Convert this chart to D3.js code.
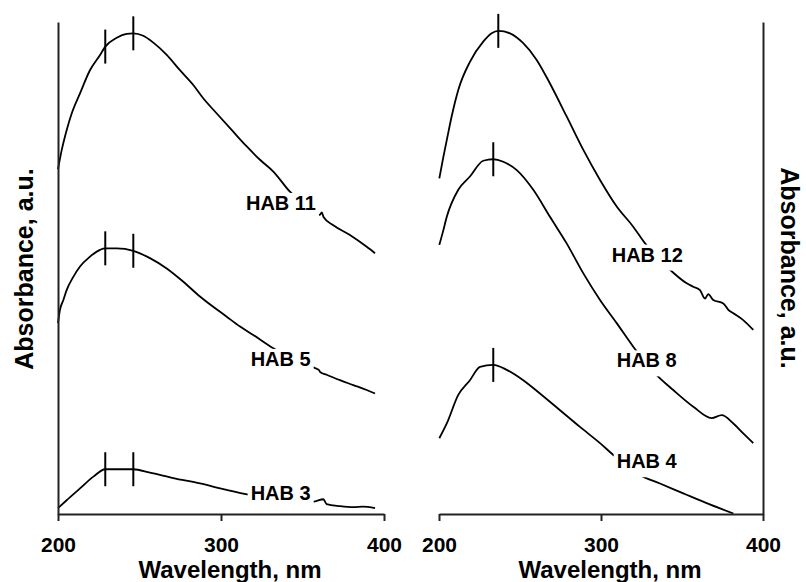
<!DOCTYPE html>
<html>
<head>
<meta charset="utf-8">
<script src="https://cdn.jsdelivr.net/npm/d3@7"></script>
<style>
  body { margin: 0; background: #fff; }
  text { font-family: "Liberation Sans", Arial, sans-serif; font-weight: bold; fill: #000; }
</style>
</head>
<body>
<div id="chart"></div>
<script>
// spectra, [wavelength nm, absorbance a.u. (offset)]
const hab11 = [[200,0.701],[202.3,0.740],[205.3,0.780],[208.4,0.814],[213.5,0.855],[219.6,0.902],[225.8,0.933],[229,0.950],[236,0.968],[242.1,0.976],[246.2,0.977],[252.3,0.972],[258.5,0.958],[266.7,0.933],[274.8,0.902],[283,0.872],[289.1,0.845],[297.4,0.814],[307.5,0.777],[315.8,0.747],[323.9,0.720],[332.1,0.696],[342.3,0.655],[360.7,0.608],[361.8,0.613],[363,0.603],[368.9,0.587],[379.1,0.567],[389.4,0.543],[394.5,0.530]];
const hab5 = [[200,0.388],[201.2,0.415],[203.3,0.435],[205.3,0.455],[209.4,0.482],[213.5,0.503],[219.6,0.523],[225.8,0.537],[229,0.540],[236,0.540],[246.2,0.535],[256.4,0.520],[266.7,0.499],[276.9,0.472],[287.1,0.442],[303.5,0.401],[311.7,0.381],[319.8,0.364],[332.1,0.337],[356.6,0.298],[360,0.293],[361,0.288],[364.8,0.283],[373,0.272],[381.2,0.262],[389.4,0.252],[394.5,0.245]];
const hab3 = [[200,0.012],[205.3,0.028],[213.5,0.052],[221.7,0.076],[229,0.091],[246.2,0.091],[256.4,0.084],[270.7,0.073],[287.1,0.062],[303.5,0.049],[317.8,0.039],[356.6,0.025],[362.8,0.030],[364.8,0.020],[373,0.016],[381.2,0.014],[387,0.015],[394.5,0.012]];
const hab12 = [[200.2,0.682],[202.7,0.726],[204.8,0.760],[207.8,0.808],[211.9,0.862],[219.1,0.919],[227.3,0.960],[232.5,0.977],[236.6,0.982],[243.8,0.977],[252,0.957],[260.3,0.923],[268.5,0.875],[278.8,0.808],[289.1,0.740],[299.4,0.679],[309.7,0.625],[319.9,0.584],[327.2,0.550],[340.5,0.503],[352.9,0.469],[357,0.462],[361.1,0.455],[364.2,0.438],[366.2,0.447],[369.3,0.435],[375.5,0.428],[378.6,0.415],[381.7,0.408],[387.8,0.394],[394,0.374]];
const hab8 = [[200.2,0.547],[202.7,0.577],[204.8,0.604],[211.9,0.659],[219.1,0.686],[227.3,0.718],[233.5,0.721],[239.7,0.716],[248,0.699],[258.2,0.659],[268.5,0.604],[278.8,0.550],[289.1,0.489],[299.4,0.435],[309.7,0.388],[319.9,0.340],[333.3,0.286],[344.6,0.252],[357,0.218],[368.3,0.195],[374.5,0.201],[381.7,0.184],[387.8,0.164],[394,0.144]];
const hab4 = [[200.2,0.154],[204.8,0.184],[211.9,0.242],[219.1,0.272],[225.3,0.299],[233.5,0.303],[241.8,0.293],[252,0.272],[262.3,0.245],[274.7,0.211],[287,0.177],[299.4,0.144],[307.6,0.120],[324.1,0.079],[336.4,0.062],[350.8,0.042],[365.2,0.022],[381.7,0.001]];

// peak markers (nm)
const leftMarks = [229, 246.2];
const hab12Marks = [236.6];
const hab8Marks = [233.5];
const hab4Marks = [233.5];

// label anchors [nm, a.u.]
const labelNames = ['HAB 11', 'HAB 5', 'HAB 3', 'HAB 12', 'HAB 8', 'HAB 4'];
const labelAt = [[315.3,0.618],[318.2,0.301],[318.2,0.028],[306.6,0.513],[309.7,0.298],[309.7,0.093]];

const xTicks = [200, 300, 400];
const xTitle = 'Wavelength, nm';
const yTitle = 'Absorbance, a.u.';

const width = 806, height = 582;
const plotTop = 22, plotBottom = 514;

const svg = d3.select('#chart').append('svg')
  .attr('width', width)
  .attr('height', height);

const y = d3.scaleLinear().domain([0, 1]).range([plotBottom, plotTop]);

const panels = [
  { x0: 58, x1: 384, side: 'left',
    series: [
      { data: hab11, marks: leftMarks, label: 0 },
      { data: hab5, marks: leftMarks, label: 1 },
      { data: hab3, marks: leftMarks, label: 2 }
    ] },
  { x0: 439, x1: 763, side: 'right',
    series: [
      { data: hab12, marks: hab12Marks, label: 3 },
      { data: hab8, marks: hab8Marks, label: 4 },
      { data: hab4, marks: hab4Marks, label: 5 }
    ] }
];

const nearest = (data, wl) => {
  let best = data[0];
  data.forEach(d => { if (Math.abs(d[0] - wl) < Math.abs(best[0] - wl)) best = d; });
  return best;
};

panels.forEach(p => {
  const x = d3.scaleLinear().domain([200, 400]).range([p.x0, p.x1]);
  const g = svg.append('g');

  const line = d3.line()
    .x(d => x(d[0]))
    .y(d => y(d[1]))
    .curve(d3.curveMonotoneX);

  p.series.forEach(s => {
    g.append('path')
      .attr('d', line(s.data))
      .attr('fill', 'none')
      .attr('stroke', '#000')
      .attr('stroke-width', 1.8)
      .attr('stroke-linejoin', 'round');

    s.marks.forEach(m => {
      const pt = nearest(s.data, m);
      g.append('line')
        .attr('x1', x(pt[0])).attr('x2', x(pt[0]))
        .attr('y1', y(pt[1]) - 17).attr('y2', y(pt[1]) + 17)
        .attr('stroke', '#000')
        .attr('stroke-width', 2);
    });

    // label with white box that breaks the curve
    const lg = g.append('g');
    const t = lg.append('text')
      .attr('x', x(labelAt[s.label][0]))
      .attr('y', y(labelAt[s.label][1]))
      .attr('font-size', 20)
      .text(labelNames[s.label]);
    const bb = t.node().getBBox();
    lg.insert('rect', 'text')
      .attr('x', bb.x - 3)
      .attr('y', bb.y + 1)
      .attr('width', bb.width + 6)
      .attr('height', bb.height + 4)
      .attr('fill', '#fff');
  });

  const xAxis = d3.axisBottom(x)
    .tickValues(xTicks)
    .tickSize(7)
    .tickSizeOuter(0)
    .tickPadding(16);
  const ax = svg.append('g')
    .attr('transform', `translate(0,${plotBottom})`)
    .call(xAxis);
  ax.select('.domain').attr('stroke', '#222').attr('stroke-width', 2);
  ax.selectAll('.tick line').attr('stroke', '#222').attr('stroke-width', 2);
  ax.selectAll('.tick text')
    .attr('font-size', 21)
    .attr('font-family', '"Liberation Sans", Arial, sans-serif')
    .attr('font-weight', 'bold')
    .attr('fill', '#000');

  const yAxis = (p.side === 'left' ? d3.axisLeft(y) : d3.axisRight(y))
    .tickValues([])
    .tickSizeOuter(0);
  const ay = svg.append('g')
    .attr('transform', `translate(${p.side === 'left' ? p.x0 : p.x1},0)`)
    .call(yAxis);
  ay.select('.domain').attr('stroke', '#222').attr('stroke-width', 2);

  svg.append('text')
    .attr('x', (p.x0 + p.x1) / 2 + 9)
    .attr('y', 578)
    .attr('text-anchor', 'middle')
    .attr('font-size', 24)
    .text(xTitle);

  if (p.side === 'left') {
    svg.append('text')
      .attr('transform', `translate(33,269) rotate(-90)`)
      .attr('text-anchor', 'middle')
      .attr('font-size', 25)
      .text(yTitle);
  } else {
    svg.append('text')
      .attr('transform', `translate(781,268) rotate(90)`)
      .attr('text-anchor', 'middle')
      .attr('font-size', 25)
      .text(yTitle);
  }
});
</script>
</body>
</html>
